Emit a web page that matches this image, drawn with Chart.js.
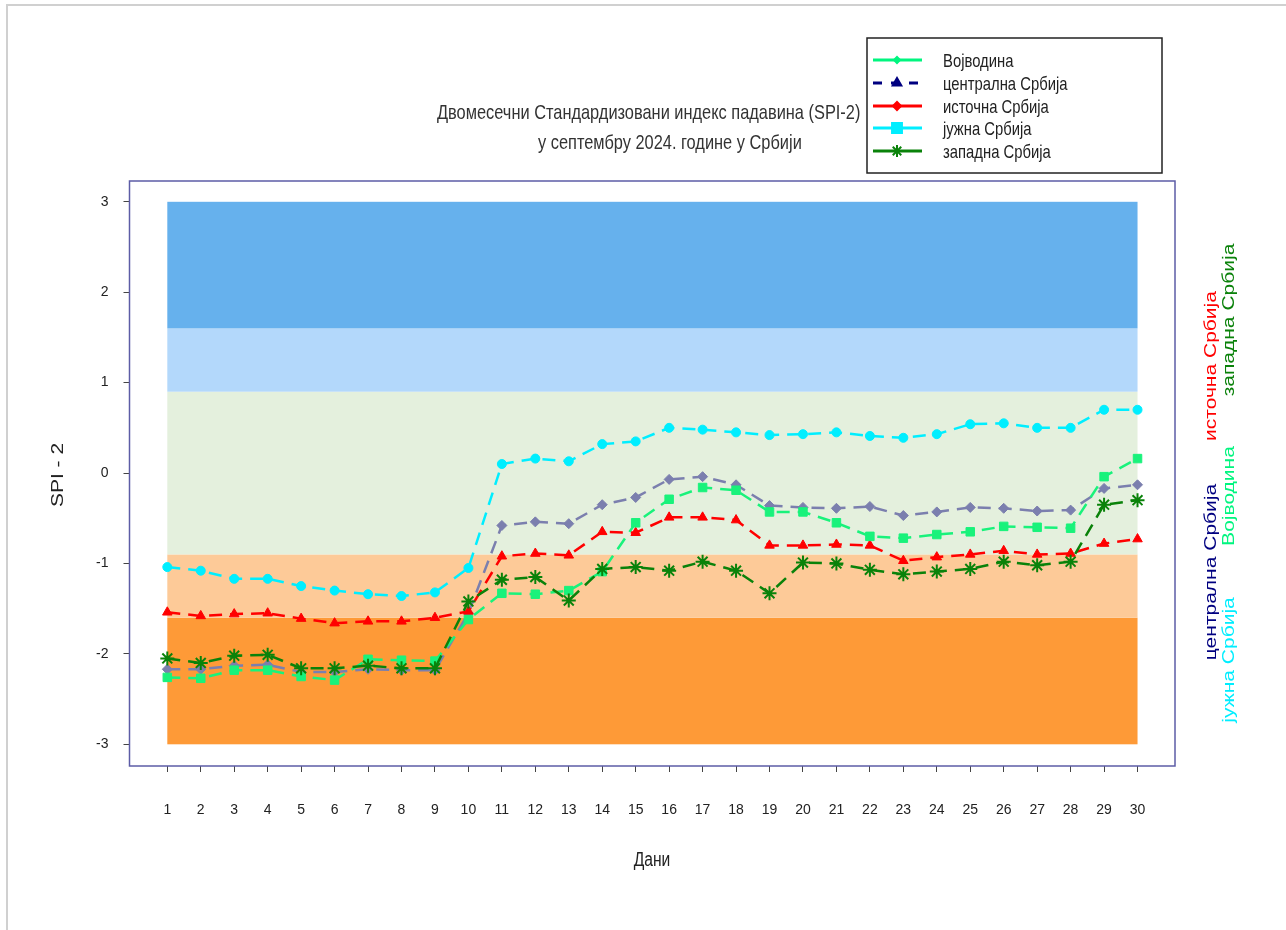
<!DOCTYPE html>
<html>
<head>
<meta charset="utf-8">
<script src="https://cdn.jsdelivr.net/npm/chart.js@4/dist/chart.umd.min.js"></script>
<style>
  body { margin: 0; background: #fff; }
  canvas { display: block; }
</style>
</head>
<body>
<canvas id="chart" width="1286" height="930"></canvas>
<script>
const days = [1, 2, 3, 4, 5, 6, 7, 8, 9, 10, 11, 12, 13, 14, 15, 16, 17, 18, 19, 20, 21, 22, 23, 24, 25, 26, 27, 28, 29, 30];
const yTicks = [-3, -2, -1, 0, 1, 2, 3];

// SPI-2 values per region
const zapadna = [-2.05, -2.10, -2.02, -2.01, -2.16, -2.16, -2.13, -2.16, -2.16, -1.42, -1.18, -1.15, -1.41, -1.06, -1.04, -1.08, -0.98, -1.08, -1.33, -0.99, -1.00, -1.07, -1.12, -1.09, -1.06, -0.98, -1.02, -0.98, -0.35, -0.30];
const vojvodina = [-2.26, -2.27, -2.18, -2.18, -2.25, -2.29, -2.06, -2.07, -2.08, -1.62, -1.33, -1.34, -1.30, -1.09, -0.55, -0.29, -0.16, -0.19, -0.43, -0.43, -0.55, -0.70, -0.72, -0.68, -0.65, -0.59, -0.60, -0.61, -0.04, 0.16];
const istocna = [-1.54, -1.58, -1.56, -1.55, -1.61, -1.66, -1.64, -1.64, -1.60, -1.53, -0.92, -0.89, -0.91, -0.65, -0.66, -0.49, -0.49, -0.52, -0.80, -0.80, -0.79, -0.80, -0.97, -0.93, -0.90, -0.86, -0.90, -0.89, -0.78, -0.73];
const centralna = [-2.17, -2.17, -2.13, -2.12, -2.20, -2.20, -2.17, -2.18, -2.18, -1.55, -0.58, -0.54, -0.56, -0.35, -0.27, -0.07, -0.04, -0.13, -0.36, -0.38, -0.39, -0.37, -0.47, -0.43, -0.38, -0.39, -0.42, -0.41, -0.17, -0.13];
const juzna = [-1.04, -1.08, -1.17, -1.17, -1.25, -1.30, -1.34, -1.36, -1.32, -1.05, 0.10, 0.16, 0.13, 0.32, 0.35, 0.50, 0.48, 0.45, 0.42, 0.43, 0.45, 0.41, 0.39, 0.43, 0.54, 0.55, 0.50, 0.50, 0.70, 0.70];

// SPI class limits and background colours
const bandLimits = [-3, -1.6, -0.9, 0.9, 1.6, 3];
const bandColors = ["#fe9a37", "#fdca98", "#e4f0dd", "#b3d8fb", "#66b1ed"];

const titleLines = ["Двомесечни Стандардизовани индекс падавина (SPI-2)", "у септембру 2024. године у Србији"];
const legendNames = ["Војводина", "централна Србија", "источна Србија", "јужна Србија", "западна Србија"];

const SANS = '"Liberation Sans", Arial, sans-serif';
const SQ = 0.78; // original text is squeezed horizontally

const pts = (arr) => days.map((d, i) => ({ x: d, y: arr[i] }));

function line(label, arr, color, style, radius, extra) {
  return Object.assign({
    label: label,
    data: pts(arr),
    borderColor: color,
    backgroundColor: color,
    pointBackgroundColor: color,
    pointBorderColor: color,
    pointStyle: style,
    pointRadius: radius,
    pointBorderWidth: 1,
    borderWidth: 2.5,
    borderDash: [13, 8],
    tension: 0,
  }, extra || {});
}

function txt(ctx, s, x, y, size, color, align, rot) {
  ctx.save();
  ctx.font = size + "px " + SANS;
  ctx.fillStyle = color;
  ctx.textAlign = align || "left";
  ctx.textBaseline = "middle";
  ctx.translate(x, y);
  ctx.scale(SQ, 1);
  if (rot) ctx.rotate(rot);
  ctx.fillText(s, 0, 0);
  ctx.restore();
}

const bandsPlugin = {
  id: "bands",
  beforeDraw(chart) {
    const ctx = chart.ctx;
    ctx.save();
    ctx.strokeStyle = "#d0d0d0";
    ctx.lineWidth = 2;
    ctx.beginPath();
    ctx.moveTo(7, 930); ctx.lineTo(7, 5); ctx.lineTo(1286, 5);
    ctx.stroke();
    ctx.restore();
  },
  beforeDatasetsDraw(chart) {
    const { ctx, scales: { x, y } } = chart;
    const x0 = x.getPixelForValue(days[0]);
    const x1 = x.getPixelForValue(days[days.length - 1]);
    ctx.save();
    for (let i = 0; i < bandColors.length; i++) {
      const yt = y.getPixelForValue(bandLimits[i + 1]);
      const yb = y.getPixelForValue(bandLimits[i]);
      ctx.fillStyle = bandColors[i];
      ctx.fillRect(x0, yt, x1 - x0, yb - yt);
    }
    ctx.restore();
  },
  afterDatasetsDraw(chart) {
    const { ctx, chartArea: a } = chart;
    ctx.save();
    ctx.strokeStyle = "#5c5ca6";
    ctx.lineWidth = 1.5;
    ctx.strokeRect(a.left, a.top, a.right - a.left, a.bottom - a.top);
    ctx.restore();
  },
  afterDraw(chart) {
    const ctx = chart.ctx;
    // title
    txt(ctx, titleLines[0], 437, 113, 21, "#333");
    txt(ctx, titleLines[1], 538, 143, 21, "#333");
    // axis titles
    txt(ctx, "SPI - 2", 58, 475, 21, "#222", "center", -Math.PI / 2);
    txt(ctx, "Дани", 652, 860, 20, "#222", "center");
    // side labels
    txt(ctx, "централна Србија", 1211, 572, 21, "#000080", "center", -Math.PI / 2);
    txt(ctx, "источна Србија", 1211, 366, 21, "#ff0000", "center", -Math.PI / 2);
    txt(ctx, "јужна Србија", 1229, 660, 21, "#00eeff", "center", -Math.PI / 2);
    txt(ctx, "Војводина", 1229, 496, 21, "#00f57f", "center", -Math.PI / 2);
    txt(ctx, "западна Србија", 1229, 320, 21, "#0a820a", "center", -Math.PI / 2);

    // legend box
    ctx.save();
    ctx.fillStyle = "#fff";
    ctx.fillRect(867, 38, 295, 135);
    ctx.strokeStyle = "#222";
    ctx.lineWidth = 1.5;
    ctx.strokeRect(867, 38, 295, 135);
    ctx.restore();
    const rows = [60, 83, 106, 128, 151];
    const lg = [
      { color: "#00f57f", style: "rectRot", r: 3, dash: [] },
      { color: "#000080", style: "triangle", r: 5, dash: [9, 9] },
      { color: "#ff0000", style: "rectRot", r: 4, dash: [] },
      { color: "#00eeff", style: "rect", r: 7, dash: [] },
      { color: "#0a820a", style: "star", r: 6, dash: [] },
    ];
    lg.forEach((s, i) => {
      const y = rows[i];
      ctx.save();
      ctx.strokeStyle = s.color;
      ctx.fillStyle = s.color;
      ctx.lineWidth = 3;
      ctx.setLineDash(s.dash);
      ctx.beginPath();
      ctx.moveTo(873, y); ctx.lineTo(922, y);
      ctx.stroke();
      ctx.setLineDash([]);
      ctx.lineWidth = 2;
      Chart.helpers.drawPoint(ctx, { pointStyle: s.style, radius: s.r, rotation: 0, borderWidth: 2 }, 897, y);
      ctx.restore();
      txt(ctx, legendNames[i], 943, y + 2, 19, "#222");
    });
  },
};

const ctx = document.getElementById("chart").getContext("2d");
const chart = new Chart(ctx, {
  type: "line",
  data: {
    datasets: [
      line("западна Србија", zapadna, "#0a820a", "star", 7, { pointBorderWidth: 2 }),
      line("Војводина", vojvodina, "#19f27b", "rect", 6),
      line("источна Србија", istocna, "#ff0000", "triangle", 5.5),
      line("централна Србија", centralna, "#7b7fae", "rectRot", 5),
      line("јужна Србија", juzna, "#00eeff", "circle", 4.5),
    ],
  },
  options: {
    responsive: false,
    animation: false,
    layout: { padding: { left: 0, top: 181, right: 111, bottom: 0 } },
    plugins: {
      legend: { display: false },
      tooltip: { enabled: false },
      title: { display: false },
    },
    scales: {
      x: {
        type: "linear",
        min: -0.13,
        max: 31.12,
        afterBuildTicks: (s) => { s.ticks = days.map((d) => ({ value: d })); },
        afterFit: (s) => { s.height = 164; },
        ticks: { color: "#222", font: { family: SANS, size: 14 }, padding: 30, maxRotation: 0, autoSkip: false },
        grid: { drawOnChartArea: false, drawTicks: true, tickLength: 6, color: "#444" },
        border: { display: false },
      },
      y: {
        min: -3.24,
        max: 3.23,
        afterBuildTicks: (s) => { s.ticks = yTicks.map((v) => ({ value: v })); },
        afterFit: (s) => { s.width = 129.5; },
        ticks: { color: "#222", font: { family: SANS, size: 14 }, padding: 15 },
        grid: { drawOnChartArea: false, drawTicks: true, tickLength: 6, color: "#444" },
        border: { display: false },
      },
    },
  },
  plugins: [bandsPlugin],
});
</script>
</body>
</html>
